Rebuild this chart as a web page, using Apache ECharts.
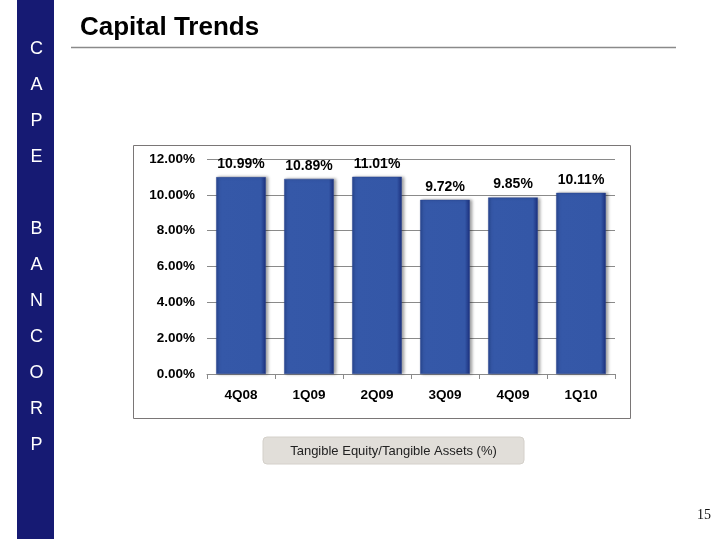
<!DOCTYPE html>
<html><head><meta charset="utf-8">
<script src="https://cdn.jsdelivr.net/npm/echarts@6/dist/echarts.min.js"></script>
<style>html,body{margin:0;padding:0;background:#fff}#c{width:720px;height:539px}</style>
</head><body><div id="c"></div>
<script>
var categories = ['4Q08', '1Q09', '2Q09', '3Q09', '4Q09', '1Q10'];
var values = [10.99, 10.89, 11.01, 9.72, 9.85, 10.11];
var yTicks = [0, 2, 4, 6, 8, 10, 12];
var sideLetters = ['C', 'A', 'P', 'E', '', 'B', 'A', 'N', 'C', 'O', 'R', 'P'];
var titleText = 'Capital Trends';
var legendText = 'Tangible Equity/Tangible Assets (%)';
var pageNum = '15';

var chart = echarts.init(document.getElementById('c'));
var graphics = [
  {type: 'rect', shape: {x: 17, y: 0, width: 37, height: 539}, style: {fill: '#161a73'}, z: 0},
  {type: 'text', left: 80, top: 15, style: {text: titleText, font: 'bold 26px "Liberation Sans", Arial, sans-serif', fill: '#000'}},
  {type: 'line', shape: {x1: 71, y1: 47.5, x2: 676, y2: 47.5}, style: {stroke: '#8a8a8a', lineWidth: 1.5}},
  {type: 'rect', shape: {x: 133.5, y: 145.5, width: 497, height: 273}, style: {fill: 'none', stroke: '#7a7676', lineWidth: 1}, z: 0},
  {type: 'rect', shape: {x: 263, y: 437, width: 261, height: 27, r: 4}, style: {fill: '#e1ded9', stroke: '#d4d0ca', lineWidth: 1}},
  {type: 'text', x: 393.5, y: 451, style: {text: legendText, font: '13px "Liberation Sans", Arial, sans-serif', fill: '#222', align: 'center', verticalAlign: 'middle'}},
  {type: 'text', x: 711, y: 515, style: {text: pageNum, font: '14px "Liberation Serif", "Times New Roman", serif', fill: '#111', align: 'right', verticalAlign: 'middle'}}
];
sideLetters.forEach(function (l, i) {
  if (!l) return;
  graphics.push({type: 'text', x: 36.5, y: 49 + i * 36, style: {text: l, font: '18px "Liberation Sans", Arial, sans-serif', fill: '#fff', align: 'center', verticalAlign: 'middle'}});
});

chart.setOption({
  animation: false,
  backgroundColor: '#fff',
  grid: {left: 207, right: 105, top: 159, bottom: 165},
  xAxis: {
    type: 'category', data: categories,
    axisLine: {lineStyle: {color: '#8a8a8a'}},
    axisTick: {show: true, length: 5, lineStyle: {color: '#8a8a8a'}},
    axisLabel: {margin: 14, fontSize: 13.5, fontWeight: 'bold', color: '#000', fontFamily: '"Liberation Sans", Arial, sans-serif'}
  },
  yAxis: {
    type: 'value', min: yTicks[0], max: yTicks[yTicks.length - 1], interval: 2,
    axisLine: {show: false},
    axisTick: {show: false},
    splitLine: {lineStyle: {color: '#8a8a8a', width: 1}},
    axisLabel: {margin: 12, fontSize: 13.5, fontWeight: 'bold', color: '#000', fontFamily: '"Liberation Sans", Arial, sans-serif',
      formatter: function (v) { return v.toFixed(2) + '%'; }}
  },
  series: [{
    type: 'bar', data: values, barWidth: '73%',
    itemStyle: {
      color: {type: 'linear', x: 0, y: 0, x2: 1, y2: 0, colorStops: [
        {offset: 0, color: '#26448f'}, {offset: 0.06, color: '#3558a8'},
        {offset: 0.9, color: '#3457a7'}, {offset: 1, color: '#1b2f7c'}]},
      borderColor: '#2a4590', borderWidth: 0.5,
      shadowColor: 'rgba(0,0,0,0.35)', shadowBlur: 3, shadowOffsetX: 2, shadowOffsetY: 0
    },
    label: {show: true, position: 'top', distance: 6, fontSize: 14, fontWeight: 'bold', color: '#000',
      fontFamily: '"Liberation Sans", Arial, sans-serif',
      formatter: function (p) { return p.value.toFixed(2) + '%'; }}
  }],
  graphic: graphics
});
</script></body></html>
